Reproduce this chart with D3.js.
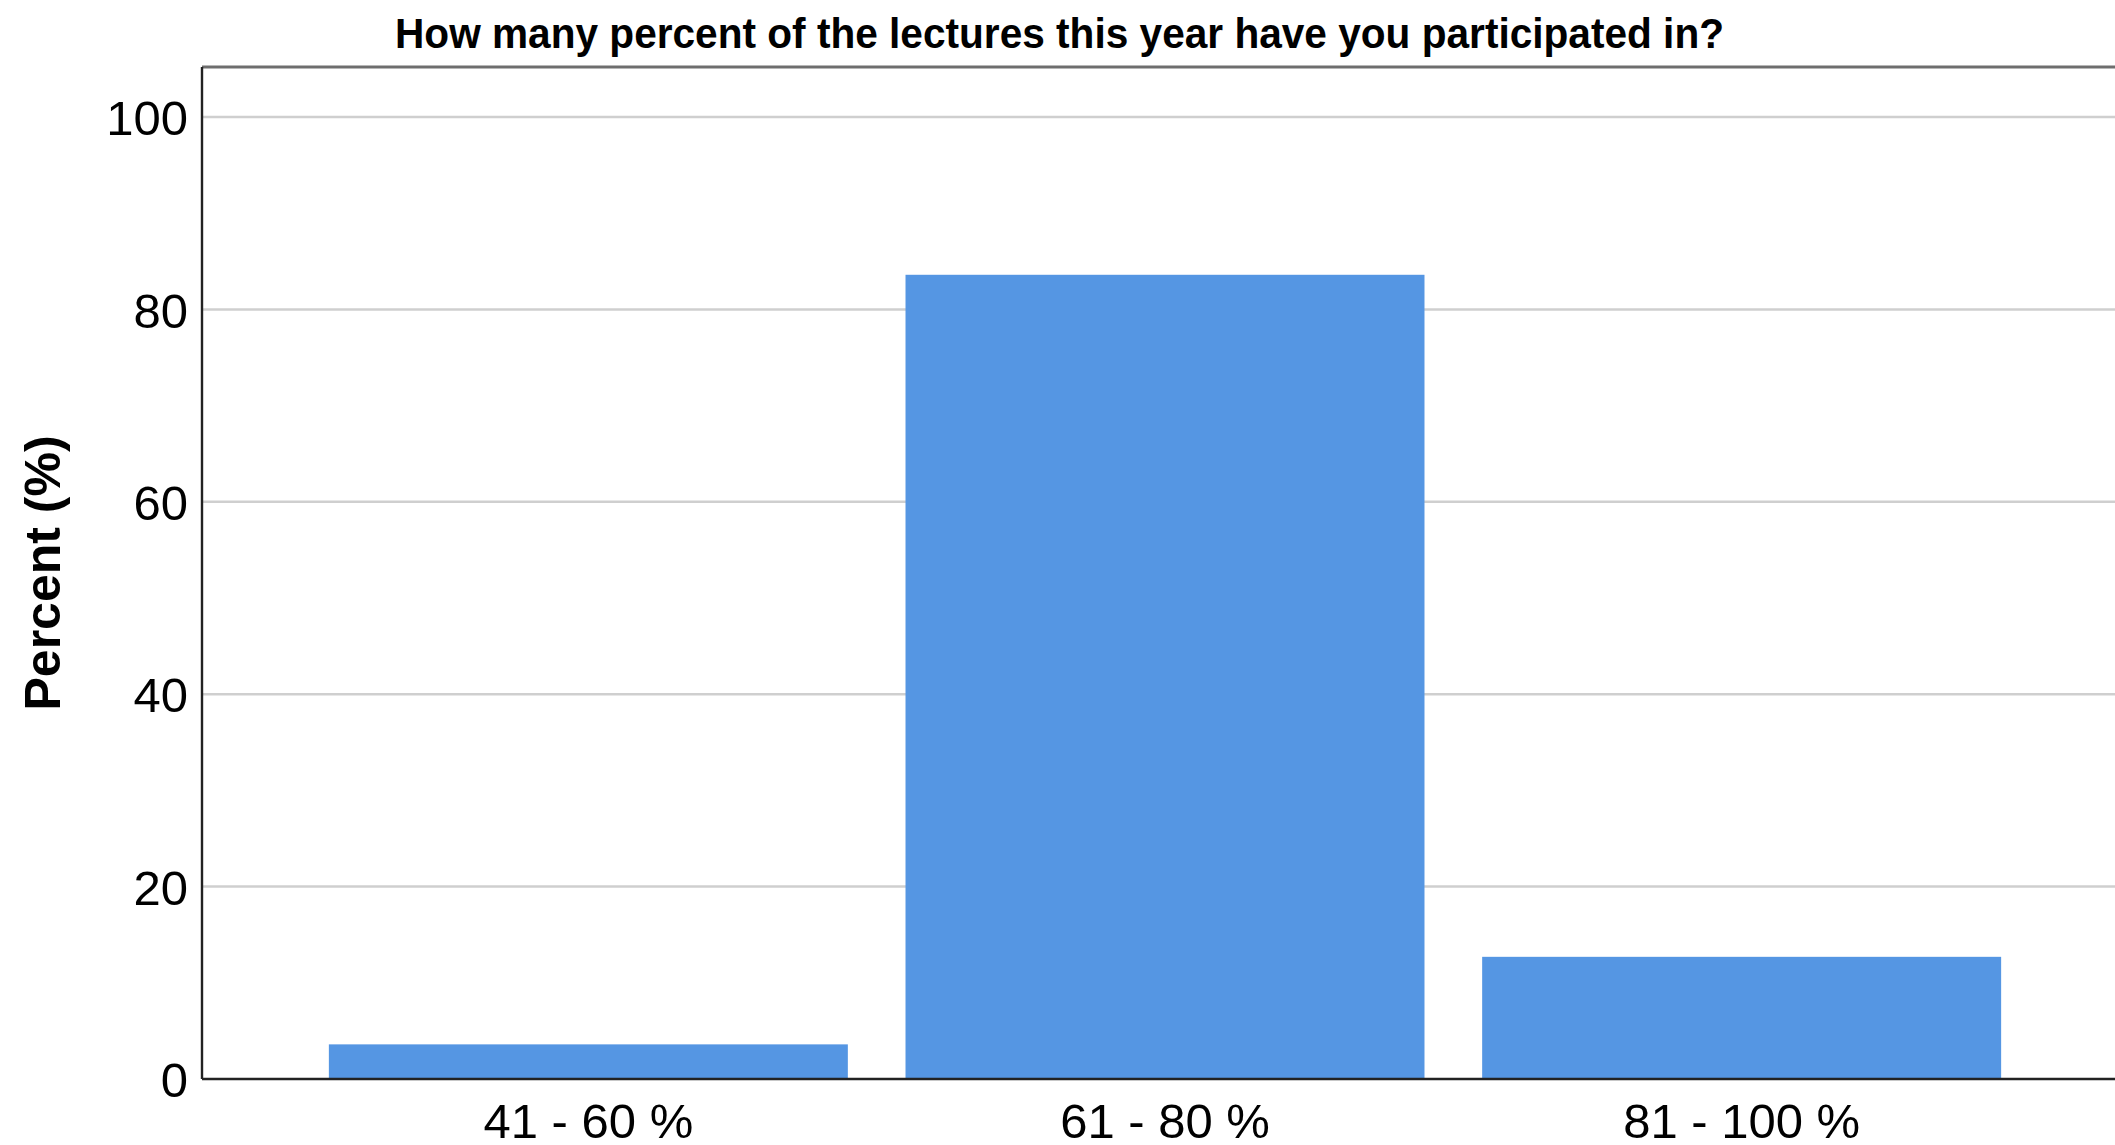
<!DOCTYPE html>
<html>
<head>
<meta charset="utf-8">
<script src="https://cdn.jsdelivr.net/npm/d3@7"></script>
<style>
html,body{margin:0;padding:0;background:#fff;}
svg{display:block;font-family:"Liberation Sans",Arial,sans-serif;}
</style>
</head>
<body>
<svg id="chart" width="2115" height="1145"></svg>
<script>
const categories = ["41 - 60 %", "61 - 80 %", "81 - 100 %"];
const percents = [3.6, 83.6, 12.7];
const yTicks = [0, 20, 40, 60, 80, 100];
const titleText = "How many percent of the lectures this year have you participated in?";
const yLabel = "Percent (%)";

(function () {
const svg = d3.select("#chart");
const pLeft = 202, pRight = 2128, pTop = 67, pBottom = 1079;

const x = d3.scaleBand().domain(categories).range([pLeft, pRight])
  .paddingInner(0.1).paddingOuter(0.22);
const y = d3.scaleLinear().domain([0, 105.2]).range([pBottom, pTop]);

// gridlines
svg.append("g").selectAll("line").data(yTicks.filter(d => d > 0)).join("line")
  .attr("x1", pLeft).attr("x2", 2115)
  .attr("y1", d => y(d)).attr("y2", d => y(d))
  .attr("stroke", "#cfcfcf").attr("stroke-width", 2.5);

// bars
svg.append("g").selectAll("rect").data(percents).join("rect")
  .attr("x", (d, i) => x(categories[i]))
  .attr("width", x.bandwidth())
  .attr("y", d => y(d))
  .attr("height", d => y(0) - y(d))
  .attr("fill", "#5596e3");

// frame top
svg.append("line").attr("x1", pLeft).attr("x2", 2115).attr("y1", pTop).attr("y2", pTop)
  .attr("stroke", "#6e6e6e").attr("stroke-width", 3);

// y axis
const yAxis = svg.append("g").attr("transform", `translate(${pLeft},0)`)
  .call(d3.axisLeft(y).tickValues(yTicks).tickSize(0).tickPadding(14));
yAxis.select(".domain").attr("stroke", "#222").attr("stroke-width", 2.4)
  .attr("d", `M0,${pTop}V${pBottom}`);
yAxis.selectAll("text").attr("font-size", 49).attr("fill", "#000")
  .attr("font-family", "Liberation Sans, Arial, sans-serif").attr("dy", "0.36em");

// x axis
const xAxis = svg.append("g").attr("transform", `translate(0,${pBottom})`)
  .call(d3.axisBottom(x).tickSize(0).tickPadding(24));
xAxis.select(".domain").attr("stroke", "#222").attr("stroke-width", 2.4)
  .attr("d", `M${pLeft},0H2115`);
xAxis.selectAll("text").attr("font-size", 49).attr("fill", "#000")
  .attr("font-family", "Liberation Sans, Arial, sans-serif").attr("dy", "0.71em");

// title
const t = svg.append("text").attr("x", 395).attr("y", 48)
  .attr("font-size", 42).attr("font-weight", "bold").attr("fill", "#000")
  .text(titleText);
const tw = t.node().getComputedTextLength();
if (Math.abs(tw - 1329) > 5) t.attr("textLength", 1329).attr("lengthAdjust", "spacingAndGlyphs");

// y label
svg.append("text").attr("transform", "translate(60,573) rotate(-90)")
  .attr("text-anchor", "middle").attr("font-size", 50).attr("font-weight", "bold")
  .attr("fill", "#000").text(yLabel);
})();
</script>
</body>
</html>
